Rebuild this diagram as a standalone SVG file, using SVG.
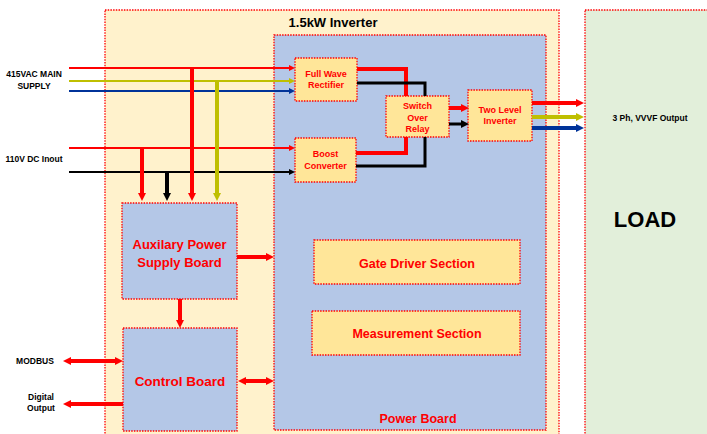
<svg xmlns="http://www.w3.org/2000/svg" width="707" height="434" viewBox="0 0 707 434">
<style>
.box{stroke:#ff0000;stroke-width:1.3;stroke-dasharray:1.5 1.2}
.outer{fill:#fff2cc}.pb{fill:#b4c7e7}.sm{fill:#ffe699}.load{fill:#e2efda}
text{font-family:"Liberation Sans",Arial,sans-serif;font-weight:bold;text-anchor:middle;dominant-baseline:central}
.rt{fill:#ff0000}.bt{fill:#000000}
.r{stroke:#ff0000;fill:none}.k{stroke:#000000;fill:none}.y{stroke:#bfbf00;fill:none}.b{stroke:#003399;fill:none}
</style>
<defs>
<marker id="ar" markerUnits="userSpaceOnUse" markerWidth="8" markerHeight="8" viewBox="0 0 8 8" refX="0" refY="4" orient="auto-start-reverse"><path d="M0,0L8,4L0,8z" fill="#ff0000"/></marker>
<marker id="ak" markerUnits="userSpaceOnUse" markerWidth="8" markerHeight="8" viewBox="0 0 8 8" refX="0" refY="4" orient="auto"><path d="M0,0L8,4L0,8z" fill="#000000"/></marker>
<marker id="ay" markerUnits="userSpaceOnUse" markerWidth="8" markerHeight="8" viewBox="0 0 8 8" refX="0" refY="4" orient="auto"><path d="M0,0L8,4L0,8z" fill="#bfbf00"/></marker>
<marker id="ab" markerUnits="userSpaceOnUse" markerWidth="8" markerHeight="8" viewBox="0 0 8 8" refX="0" refY="4" orient="auto"><path d="M0,0L8,4L0,8z" fill="#003399"/></marker>
<marker id="sr" markerUnits="userSpaceOnUse" markerWidth="6" markerHeight="6" viewBox="0 0 6 6" refX="0" refY="3" orient="auto"><path d="M0,0L6,3L0,6z" fill="#ff0000"/></marker>
<marker id="sk" markerUnits="userSpaceOnUse" markerWidth="6" markerHeight="6" viewBox="0 0 6 6" refX="0" refY="3" orient="auto"><path d="M0,0L6,3L0,6z" fill="#000000"/></marker>
<marker id="sy" markerUnits="userSpaceOnUse" markerWidth="6" markerHeight="6" viewBox="0 0 6 6" refX="0" refY="3" orient="auto"><path d="M0,0L6,3L0,6z" fill="#bfbf00"/></marker>
<marker id="sb" markerUnits="userSpaceOnUse" markerWidth="6" markerHeight="6" viewBox="0 0 6 6" refX="0" refY="3" orient="auto"><path d="M0,0L6,3L0,6z" fill="#003399"/></marker>
</defs>
<rect width="707" height="434" fill="#ffffff"/>

<g id="inverter">
<rect class="box outer" x="105" y="10" width="454" height="430"/>
<text x="333" y="22" font-size="13" class="bt">1.5kW Inverter</text>
</g>
<g id="load">
<rect class="box load" x="585" y="10" width="130" height="430"/>
<text x="645" y="219" font-size="22" class="bt">LOAD</text>
<text x="650" y="118" font-size="8.5" class="bt">3 Ph, VVVF Output</text>
</g>
<g id="power-board">
<rect class="box pb" x="274" y="35" width="272" height="395"/>
<text x="418" y="419" font-size="12.5" class="rt">Power Board</text>
</g>
<g id="full-wave-rectifier">
<rect class="box sm" x="295" y="58" width="62" height="43"/>
<text x="326" y="74" font-size="9" class="rt">Full Wave</text>
<text x="326" y="85" font-size="9" class="rt">Rectifier</text>
</g>
<g id="boost-converter">
<rect class="box sm" x="295" y="138" width="61" height="44"/>
<text x="325.5" y="154" font-size="9" class="rt">Boost</text>
<text x="325.5" y="166" font-size="9" class="rt">Converter</text>
</g>
<g id="switch-over-relay">
<rect class="box sm" x="386" y="96" width="63" height="41"/>
<text x="417.5" y="106" font-size="9" class="rt">Switch</text>
<text x="417.5" y="118" font-size="9" class="rt">Over</text>
<text x="417.5" y="129" font-size="9" class="rt">Relay</text>
</g>
<g id="two-level-inverter">
<rect class="box sm" x="468" y="90" width="64" height="51"/>
<text x="500" y="110" font-size="9" class="rt">Two Level</text>
<text x="500" y="121" font-size="9" class="rt">Inverter</text>
</g>
<g id="gate-driver">
<rect class="box sm" x="314" y="240" width="206" height="44"/>
<text x="417" y="264" font-size="12.5" class="rt">Gate Driver Section</text>
</g>
<g id="measurement">
<rect class="box sm" x="312" y="311" width="208" height="44"/>
<text x="417" y="334" font-size="12.5" class="rt">Measurement Section</text>
</g>
<g id="aux-power">
<rect class="box pb" x="122" y="203" width="115" height="96"/>
<text x="179.5" y="244" font-size="13" class="rt">Auxilary Power</text>
<text x="179.5" y="262" font-size="13" class="rt">Supply Board</text>
</g>
<g id="control-board">
<rect class="box pb" x="123" y="328" width="114" height="103"/>
<text x="180" y="381" font-size="13.5" class="rt">Control Board</text>
</g>
<g id="labels">
<text x="34" y="74" font-size="8.5" class="bt">415VAC MAIN</text>
<text x="34" y="86" font-size="8.5" class="bt">SUPPLY</text>
<text x="34" y="159" font-size="8.5" class="bt">110V DC Inout</text>
<text x="35" y="361" font-size="8.5" class="bt">MODBUS</text>
<text x="41" y="397" font-size="8.5" class="bt">Digital</text>
<text x="41" y="408" font-size="8.5" class="bt">Output</text>
</g>

<g id="connectors">
<!-- inputs -->
<path class="r" stroke-width="2" d="M69,68H289" marker-end="url(#sr)"/>
<path class="y" stroke-width="2" d="M69,81H289" marker-end="url(#sy)"/>
<path class="b" stroke-width="2" d="M69,91H289" marker-end="url(#sb)"/>
<path class="r" stroke-width="2" d="M69,148H289" marker-end="url(#sr)"/>
<path class="k" stroke-width="2" d="M69,172H289" marker-end="url(#sk)"/>
<!-- drops to aux -->
<path class="r" stroke-width="4" d="M142,148V193" marker-end="url(#ar)"/>
<path class="k" stroke-width="4" d="M167,172V193" marker-end="url(#ak)"/>
<path class="r" stroke-width="4" d="M192,68V193" marker-end="url(#ar)"/>
<path class="y" stroke-width="4" d="M217,81V193" marker-end="url(#ay)"/>
<!-- rectifier / boost to relay -->
<path class="r" stroke-width="4" d="M357,69H406V96"/>
<path class="k" stroke-width="3" d="M357,83H425V96"/>
<path class="r" stroke-width="4" d="M356,153H406V137"/>
<path class="k" stroke-width="3" d="M356,166H425V137"/>
<!-- relay to inverter -->
<path class="r" stroke-width="4" d="M449,108H461" marker-end="url(#ar)"/>
<path class="k" stroke-width="3" d="M449,124H461" marker-end="url(#ak)"/>
<!-- outputs to load -->
<path class="r" stroke-width="4" d="M532,103H576" marker-end="url(#ar)"/>
<path class="y" stroke-width="4" d="M532,117H576" marker-end="url(#ay)"/>
<path class="b" stroke-width="4" d="M532,128H576" marker-end="url(#ab)"/>
<!-- aux outputs -->
<path class="r" stroke-width="4" d="M180,299V320" marker-end="url(#ar)"/>
<path class="r" stroke-width="4" d="M237,257H266" marker-end="url(#ar)"/>
<!-- control -->
<path class="r" stroke-width="4" d="M246,381H266" marker-start="url(#ar)" marker-end="url(#ar)"/>
<path class="r" stroke-width="4" d="M71,361H115" marker-start="url(#ar)" marker-end="url(#ar)"/>
<path class="r" stroke-width="4" d="M123,404H71" marker-end="url(#ar)"/>
</g>
</svg>
